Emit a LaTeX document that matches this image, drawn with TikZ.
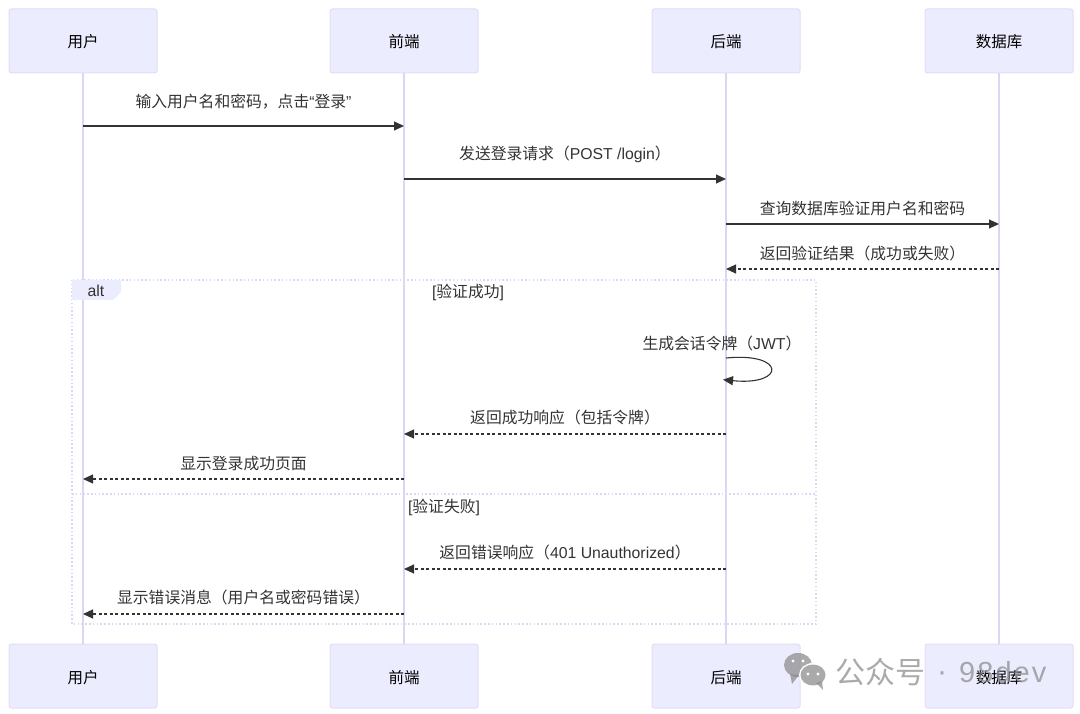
\documentclass[tikz,border=0pt]{standalone}
\usepackage{fontspec}
\setmainfont{Liberation Sans}
\newfontfamily\cjk{Noto Sans CJK SC}
\usetikzlibrary{arrows.meta}
\definecolor{boxfill}{HTML}{ECECFF}
\definecolor{boxline}{HTML}{E2DCF7}
\definecolor{lifeline}{HTML}{DCD5F3}
\definecolor{msgline}{HTML}{333333}
\definecolor{wmgray}{HTML}{8E8E8E}
\tikzset{
  actor/.style={draw=boxline, fill=boxfill, line width=1pt, rounded corners=2.5pt, minimum width=148pt, minimum height=64pt, inner sep=0pt, font=\fontsize{15.5}{18}\selectfont\cjk, text=black},
  msg/.style={draw=msgline, line width=1.1pt, -{Triangle[length=10pt, width=9pt]}},
  reply/.style={msg, dash pattern=on 3pt off 2.5pt},
  msglabel/.style={font=\fontsize{15.8}{18}\selectfont, text=msgline, inner sep=0pt},
  frameline/.style={draw=lifeline, line width=1.2pt, dash pattern=on 1.5pt off 2.3pt},
}
\begin{document}
\begin{tikzpicture}[x=1pt, y=-1pt]
  \useasboundingbox (0,0) rectangle (1080,714);
  % Kopf- und Fusszeile
  \foreach \n/\x/\t in {user/83/用户, front/404/前端, back/726/后端, db/999/数据库}{
    \draw[lifeline, line width=1.5pt] (\x,41) -- (\x,676);
    \node[actor] (\n top) at (\x,41) {\raisebox{-7pt}[0pt][0pt]{\t}};
    \node[actor] (\n bot) at (\x,676) {\raisebox{-7.5pt}[0pt][0pt]{\t}};
    \foreach \y in {126,179,224,269,358,380,434,479,569,614}{ \coordinate (\n\y) at (\x,\y); }
  }
  % Rahmen alt
  \coordinate (frameA) at (72,280);
  \coordinate (frameB) at (816,624);
  \draw[frameline] (frameA) rectangle (frameB);
  \draw[frameline] (72,494) coordinate (divA) -- (816,494) coordinate (divB);
  \fill[boxfill] (72,280) -- (121,280) -- (121,292) -- (113,300) -- (72,300) -- cycle;
  \node[msglabel] (altlabel) at (96,290.5) {alt};
  \node[msglabel] (okguard) at (468,292.5) {[{\cjk 验证成功}]};
  \node[msglabel] (failguard) at (444,507.5) {[{\cjk 验证失败}]};
  % Nachrichten
  \foreach \a/\b/\y/\dy/\kind/\txt [count=\i] in {
    user/front/126/24.5/msg/{{\cjk 输入用户名和密码，点击}“{\cjk 登录}”},
    front/back/179/24.5/msg/{{\cjk 发送登录请求（}POST /login{\cjk ）}},
    back/db/224/15.5/msg/{\cjk 查询数据库验证用户名和密码},
    db/back/269/15.5/reply/{\cjk 返回验证结果（成功或失败）},
    back/front/434/16.5/reply/{\cjk 返回成功响应（包括令牌）},
    front/user/479/15.5/reply/{\cjk 显示登录成功页面},
    back/front/569/16.5/reply/{{\cjk 返回错误响应（}401 Unauthorized{\cjk ）}},
    front/user/614/16.5/reply/{\cjk 显示错误消息（用户名或密码错误）}}{
    \draw[\kind] (\a\y) -- node[msglabel, midway, yshift=\dy pt] (label\i) {\txt} (\b\y);
  }
  % Schleife
  \draw[msg, shorten >=-3pt] (back358) .. controls (786,352) and (786,386) .. (back380);
  \node[msglabel] (selflabel) at (722,343.5) {{\cjk 生成会话令牌（}JWT{\cjk ）}};
  % Wasserzeichen
  \fill[wmgray, opacity=.75] (798,665) ellipse (14pt and 12pt);
  \fill[wmgray, opacity=.75] (790,674) -- (792,684) -- (799,675) -- cycle;
  \fill[white] (813,675) ellipse (14pt and 12pt);
  \fill[wmgray, opacity=.75] (813,675) ellipse (12.5pt and 10.5pt);
  \fill[wmgray, opacity=.75] (816,683) -- (823,690) -- (822,681) -- cycle;
  \foreach \ex/\ey in {793/661, 803/661, 808/674, 818/674}{ \fill[white] (\ex,\ey) circle (1.7pt); }
  \node[font=\fontsize{30}{32}\selectfont\cjk, text=wmgray, opacity=.75, inner sep=0pt, anchor=west] (wmark) at (835,672) {公众号};
  \node[font=\fontsize{30}{32}\selectfont, text=wmgray, opacity=.75, inner sep=0pt, anchor=west] (wmdot) at (937,677) {·};
  \node[font=\fontsize{29}{32}\selectfont\addfontfeature{LetterSpace=7}, text=wmgray, opacity=.75, inner sep=0pt, anchor=west] (wmname) at (959,672) {98dev};
\end{tikzpicture}
\end{document}
